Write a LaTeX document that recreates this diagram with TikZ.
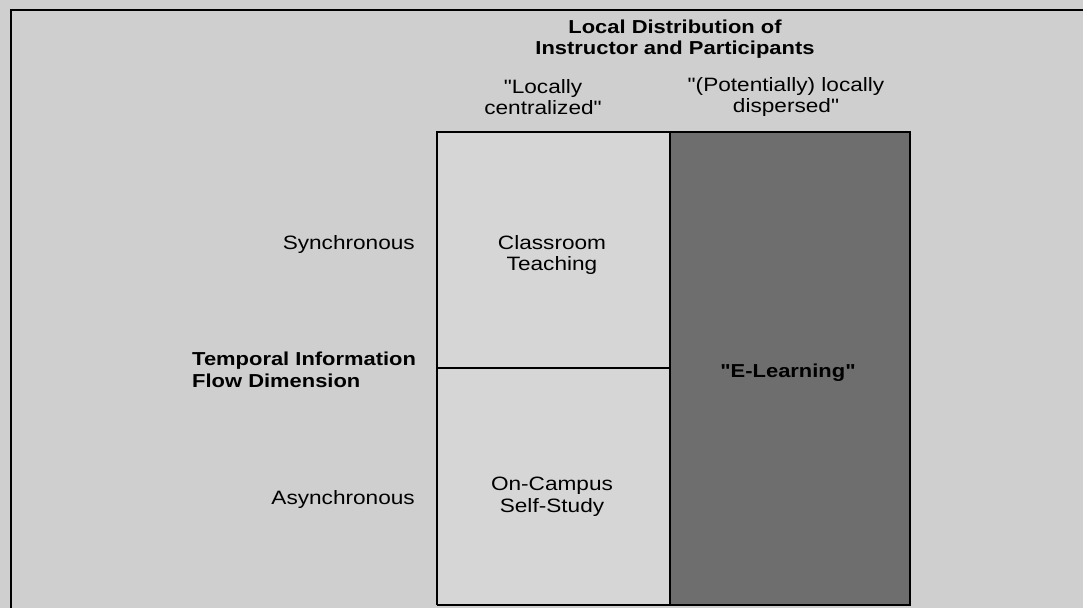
\documentclass[tikz,border=0pt]{standalone}
\usepackage{fontspec}
\setmainfont[FakeStretch=1.17, Ligatures=TeXOff]{Liberation Sans}

\definecolor{pagegray}{gray}{0.81}
\definecolor{cellgray}{gray}{0.84}
\definecolor{shadegray}{gray}{0.43}

\tikzset{
  label text/.style={font=\fontsize{16.5}{18.5}\selectfont, align=center, inner sep=0pt},
  title text/.style={label text, font=\fontsize{16}{18.5}\selectfont\bfseries},
  grid line/.style={line width=2pt}
}

\begin{document}
\begin{tikzpicture}[x=0.03cm, y=0.03cm]

\fill [pagegray] (0,0) rectangle (1083,608);
\useasboundingbox (0,0) rectangle (1083,608);

\draw [line width=2.5pt] (11,0) -- (11,598) -- (1083,598);

\draw [grid line, fill=cellgray] (437,3) -- (670,3) -- (670,476) -- (437,476) -- (437,3);
\draw [grid line] (437,240) -- (670,240);
\draw [grid line, fill=shadegray] (670,3) -- (910,3) -- (910,476) -- (670,476) -- (670,3);

\node [title text] (local) at (675,569) {Local Distribution of\\Instructor and Participants};
\node [label text] (central) at (543,511) {"Locally\\centralized"};
\node [label text] (dispersed) at (786,511) {"(Potentially) locally\\dispersed"};

\node [label text, anchor=east] (sync) at (415,363) {Synchronous};
\node [label text] (classroom) at (552,353) {Classroom\\Teaching};

\node [title text, anchor=west, align=left] (temporal) at (192,238) {Temporal Information\\Flow Dimension};
\node [title text] (elearning) at (788,235) {"E-Learning"};

\node [label text, anchor=east] (async) at (415,108) {Asynchronous};
\node [label text] (selfstudy) at (552,111) {On-Campus\\Self-Study};

\end{tikzpicture}
\end{document}
